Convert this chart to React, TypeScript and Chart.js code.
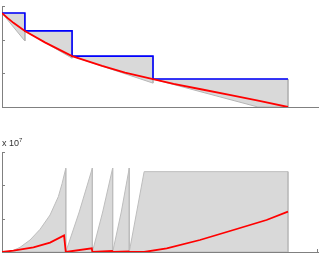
import React, { useEffect, useRef } from "react";
import { Chart, registerables } from "chart.js";
Chart.register(...registerables);

const X_MAX = 11.05;
const Y_TICKS = [0, 1, 2, 3];
const AXIS = "#808080";

// ---- top panel ----
const stepX = [0, 0.8, 2.45, 5.28, 10];
const stepY = [2.79, 2.26, 1.51, 0.83, 0.83];
const topCurveX = [0, 0.2, 0.4, 0.8, 1.5, 2.45, 3.5, 4.3, 5.28, 6.0, 7.0, 8.0, 9.0, 10];
const topCurveY = [2.79, 2.64, 2.5, 2.26, 1.92, 1.51, 1.22, 1.02, 0.83, 0.69, 0.52, 0.35, 0.18, 0];
const topShadeX = [0, 0.8, 0.8, 2.45, 2.45, 5.28, 5.28, 10, 10, 8.95, 5.28, 5.28, 2.45, 2.45, 0.8, 0.8, 0];
const topShadeY = [2.79, 2.79, 2.26, 2.26, 1.51, 1.51, 0.83, 0.83, 0, 0, 0.83, 0.71, 1.51, 1.45, 2.26, 1.96, 2.79];

// ---- bottom panel (x 10^7) ----
const botShadeX = [0, 0.16, 0.4, 0.63, 0.98, 1.33, 1.68, 1.97, 2.1, 2.23, 2.23, 2.7, 3.16, 3.16, 3.52, 3.87, 3.87, 4.17, 4.45, 4.45, 4.97, 10, 10, 0];
const botShadeY = [0, 0, 0.05, 0.14, 0.36, 0.68, 1.11, 1.66, 2.05, 2.51, 0, 1.2, 2.52, 0, 1.2, 2.52, 0, 1.2, 2.52, 0, 2.41, 2.41, 0, 0];
const botCurveX = [0, 0.4, 1.1, 1.68, 2.17, 2.23, 3.14, 3.16, 3.85, 3.87, 4.43, 4.45, 4.97, 5.76, 6.92, 8.09, 9.25, 10];
const botCurveY = [0, 0.04, 0.14, 0.28, 0.5, 0, 0.11, 0, 0.03, 0, 0.02, 0, 0, 0.11, 0.36, 0.66, 0.96, 1.21];

const pts = (xs: number[], ys: number[]) => xs.map((x, i) => ({ x, y: ys[i] }));

const tickPlugin = (endTick: boolean) => ({
  id: "inTicks",
  afterDraw(chart: any) {
    const { ctx, chartArea, scales } = chart;
    ctx.save();
    ctx.strokeStyle = AXIS;
    ctx.lineWidth = 1;
    ctx.beginPath();
    for (const v of Y_TICKS) {
      const y = Math.round(scales.y.getPixelForValue(v)) + 0.5;
      ctx.moveTo(chartArea.left, y);
      ctx.lineTo(chartArea.left + 3, y);
    }
    if (endTick) {
      const x = Math.round(scales.x.getPixelForValue(X_MAX)) - 0.5;
      ctx.moveTo(x, chartArea.bottom);
      ctx.lineTo(x, chartArea.bottom - 3);
    }
    ctx.stroke();
    ctx.restore();
  },
});

function makeOptions(padTop: number, padBottom: number) {
  return {
    responsive: false,
    animation: false as const,
    layout: { padding: { left: 2, right: 9, top: padTop, bottom: padBottom } },
    plugins: { legend: { display: false }, tooltip: { enabled: false } },
    elements: { point: { radius: 0 } },
    scales: {
      x: {
        type: "linear" as const,
        min: 0,
        max: X_MAX,
        ticks: { display: false },
        grid: { display: false, drawTicks: false },
        border: { display: true, color: AXIS, width: 1 },
        afterFit: (s: any) => {
          s.height = 0;
        },
      },
      y: {
        type: "linear" as const,
        min: 0,
        max: 3,
        ticks: { display: false, stepSize: 1 },
        grid: { display: false, drawTicks: false },
        border: { display: true, color: AXIS, width: 1 },
        afterFit: (s: any) => {
          s.width = 0;
        },
      },
    },
  };
}

export default function App() {
  const topRef = useRef<HTMLCanvasElement>(null);
  const botRef = useRef<HTMLCanvasElement>(null);

  useEffect(() => {
    const top = new Chart(topRef.current!, {
      type: "scatter",
      data: {
        datasets: [
          {
            data: pts(topCurveX, topCurveY),
            showLine: true,
            borderColor: "#ff0000",
            borderWidth: 1.8,
            order: 0,
          },
          {
            data: pts(stepX, stepY),
            showLine: true,
            stepped: "before",
            borderColor: "#0000ff",
            borderWidth: 1.6,
            order: 1,
          },
          {
            data: pts(topShadeX, topShadeY),
            showLine: true,
            fill: "shape",
            backgroundColor: "#d9d9d9",
            borderColor: "#b5b5b5",
            borderWidth: 1,
            order: 2,
          },
        ],
      } as any,
      options: makeOptions(6, 8) as any,
      plugins: [tickPlugin(false)],
    });
    const bot = new Chart(botRef.current!, {
      type: "scatter",
      data: {
        datasets: [
          {
            data: pts(botCurveX, botCurveY),
            showLine: true,
            borderColor: "#ff0000",
            borderWidth: 1.8,
            order: 0,
          },
          {
            data: pts(botShadeX, botShadeY),
            showLine: true,
            fill: "shape",
            backgroundColor: "#d9d9d9",
            borderColor: "#bdbdbd",
            borderWidth: 1,
            order: 1,
          },
        ],
      } as any,
      options: makeOptions(22, 3) as any,
      plugins: [tickPlugin(true)],
    });
    return () => {
      top.destroy();
      bot.destroy();
    };
  }, []);

  return (
    <div style={{ position: "fixed", left: 0, top: 0, width: 327, height: 255, background: "#fff", overflow: "hidden" }}>
      <canvas ref={topRef} width={327} height={115} style={{ position: "absolute", left: 0, top: 0 }} />
      <canvas ref={botRef} width={327} height={125} style={{ position: "absolute", left: 0, top: 130 }} />
      <div
        style={{
          position: "absolute",
          left: 2,
          top: 139,
          font: '9px "Liberation Sans", Arial, sans-serif',
          lineHeight: "9px",
          color: "#333",
          whiteSpace: "nowrap",
        }}
      >
        x 10<span style={{ fontSize: 6, position: "relative", top: -4 }}>7</span>
      </div>
    </div>
  );
}
